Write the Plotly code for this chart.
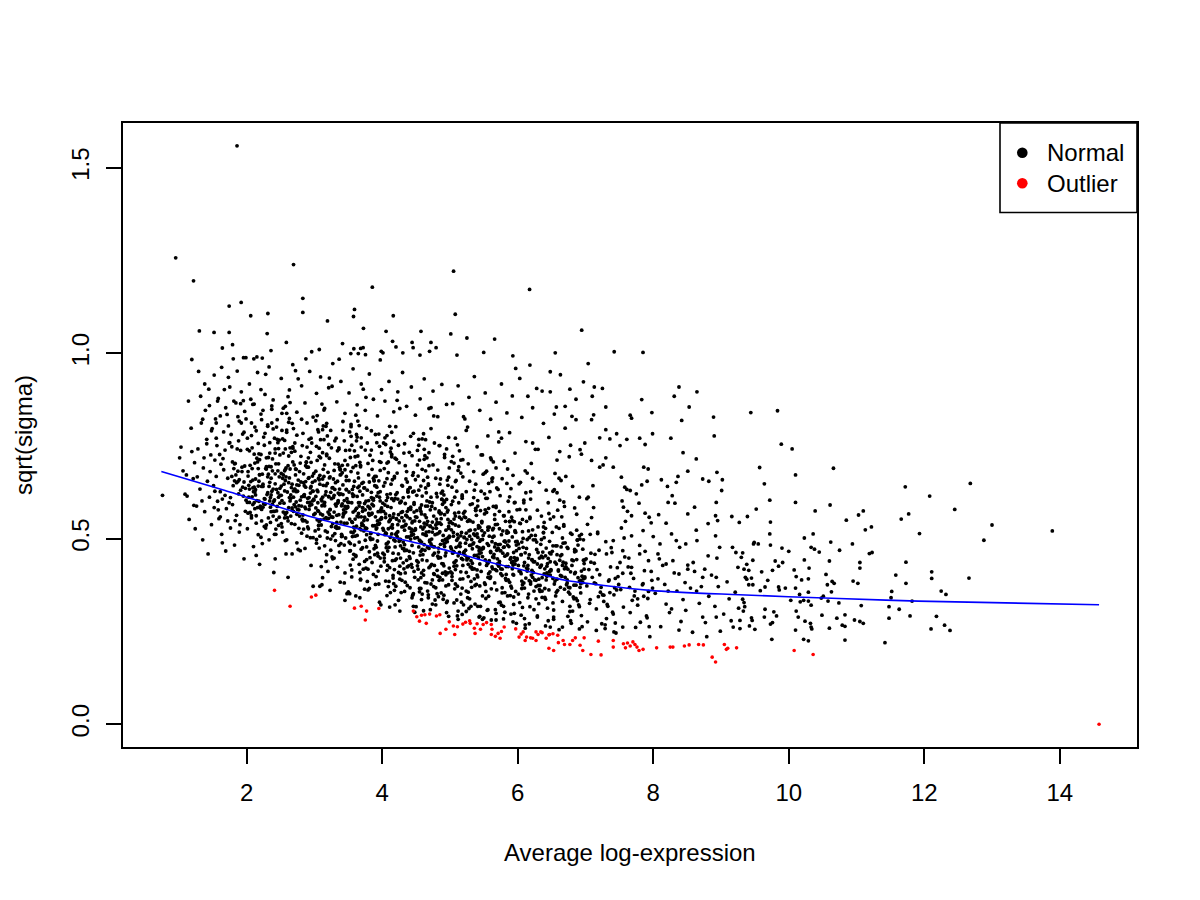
import plotly.graph_objects as go

# ---- data: flat lists of (x, y) pairs ----
# x = Average log-expression, y = sqrt(sigma)

normal_xy_1_2 = [
0.757,.617, 1.03,.747, 1.01,.718, 1.09,.620, 1.12,.615, 1.06,.683, 1.15,.552, 1.18,.798, 1.21,.662, 1.23,.705,
1.14,.871, 1.26,.588, 1.28,.742, 1.31,.634, 1.33,.812, 1.35,.497, 1.36,.691, 1.38,.573, 1.41,.768, 1.42,.655,
1.44,.903, 1.45,.612, 1.47,.726, 1.48,.538, 1.29,.951, 1.39,.846, 1.46,.681, 1.24,.527, 1.34,.602, 1.43,.459,
1.49,.797, 1.19,.735, 1.27,.667, 1.37,.718, 1.11,.672, 1.22,.590,
1.51,.643, 1.58,.578, 1.53,.712, 1.64,.489, 1.55,.668, 1.71,.835, 1.57,.601, 1.86,.742, 1.59,.554, 1.93,.693,
1.61,.627, 1.77,.781, 1.63,.512, 1.89,.659, 1.65,.716, 1.52,.584, 1.67,.902, 1.98,.636, 1.69,.467, 1.74,.758,
1.81,.689, 1.72,.548, 1.95,.615, 1.54,.823, 1.84,.672, 1.76,.529, 1.62,.701, 1.79,.592, 1.91,.864, 1.80,.643,
1.56,.751, 1.82,.483, 1.68,.617, 1.97,.696, 1.85,.563, 1.66,.788, 1.87,.654, 1.73,.935, 1.99,.604, 1.60,.727,
1.90,.538, 1.78,.668, 1.92,.812, 1.70,.581, 1.94,.639, 1.83,.703, 1.96,.446, 1.75,.759, 1.88,.621, 1.53,.628,
1.57,.871, 1.61,.559, 1.64,.607, 1.68,.739, 1.72,.663, 1.76,.611, 1.79,.707, 1.83,.549, 1.87,.682, 1.91,.631,
1.95,.872, 1.98,.574, 1.55,.771, 1.66,.686, 1.74,.597, 1.82,.656, 1.89,.518, 1.96,.653,
]

normal_xy_2_3 = [
2.03,.612, 2.41,.574, 2.17,.689, 2.26,.533, 2.08,.745, 2.37,.628, 2.12,.581, 2.48,.667, 2.21,.902, 2.33,.497,
2.06,.654, 2.29,.718, 2.44,.551, 2.15,.603, 2.39,.796, 2.01,.527, 2.24,.641, 2.47,.612, 2.11,.863, 2.35,.585,
2.19,.672, 2.42,.446, 2.05,.698, 2.31,.624, 2.46,.759, 2.14,.542, 2.27,.607, 2.38,.683, 2.09,.592, 2.22,.821,
2.49,.636, 2.02,.569, 2.34,.731, 2.18,.655, 2.43,.512, 2.25,.594, 2.07,.778, 2.36,.663, 2.13,.618, 2.45,.587,
2.28,.943, 2.04,.634, 2.32,.556, 2.16,.707, 2.40,.601, 2.23,.674, 2.10,.479, 2.47,.702, 2.30,.619, 2.20,.588,
2.37,.849, 2.02,.681, 2.44,.633, 2.26,.752, 2.14,.562, 2.39,.574, 2.08,.613, 2.33,.695, 2.19,.431, 2.48,.558,
2.24,.647, 2.11,.728, 2.41,.605, 2.29,.537, 2.06,.876, 2.35,.611, 2.17,.642, 2.46,.683, 2.22,.579, 2.04,.598,
2.31,.807, 2.43,.526, 2.13,.661, 2.38,.715, 2.27,.593, 2.09,.637, 2.45,.768, 2.21,.504, 2.34,.652, 2.16,.584,
2.49,.617, 2.01,.741, 2.28,.689, 2.40,.409, 2.12,.626, 2.36,.573, 2.23,.987, 2.07,.562, 2.42,.648, 2.32,.674,
2.18,.601,
2.52,.603, 2.78,.561, 2.64,.688, 2.91,.527, 2.57,.742, 2.85,.619, 2.69,.574, 2.97,.652, 2.61,.883, 2.74,.489,
2.55,.647, 2.88,.706, 2.66,.541, 2.93,.598, 2.59,.787, 2.81,.515, 2.71,.633, 2.99,.607, 2.54,.852, 2.77,.578,
2.63,.664, 2.95,.428, 2.58,.691, 2.84,.616, 2.68,.748, 2.90,.532, 2.73,.599, 2.51,.676, 2.86,.585, 2.62,.814,
2.98,.628, 2.56,.556, 2.80,.722, 2.67,.647, 2.94,.503, 2.72,.586, 2.53,.769, 2.87,.654, 2.65,.609, 2.92,.579,
2.76,.931, 2.60,.626, 2.83,.548, 2.70,.699, 2.96,.592, 2.58,.667, 2.79,.468, 2.89,.693, 2.63,.611, 2.75,.579,
2.52,.838, 2.94,.623, 2.68,.744, 2.82,.553, 2.57,.566, 2.99,.604, 2.73,.687, 2.61,.396, 2.86,.549, 2.66,.638,
2.91,.718, 2.55,.596, 2.77,.528, 2.64,.867, 2.97,.602, 2.71,.634, 2.84,.675, 2.59,.571, 2.93,.589, 2.69,.797,
2.53,.518, 2.80,.653, 2.88,.707, 2.62,.584, 2.75,.628, 2.96,.758, 2.57,.495, 2.85,.643, 2.67,.577, 2.90,.609,
2.54,.731, 2.78,.681, 2.98,.372, 2.65,.618, 2.83,.564, 2.72,.953, 2.60,.557, 2.87,.639, 2.92,.665, 2.70,.592,
2.51,.541, 2.76,.471, 2.95,.706, 2.63,.824, 2.81,.613, 2.56,.683, 2.89,.507, 2.74,.645, 2.67,.459,
]

normal_xy_3_4 = [
3.02,.583, 3.27,.541, 3.14,.668, 3.41,.507, 3.07,.722, 3.35,.599, 3.19,.554, 3.47,.632, 3.11,.863, 3.24,.469,
3.05,.627, 3.38,.686, 3.16,.521, 3.43,.578, 3.09,.767, 3.31,.495, 3.21,.613, 3.49,.587, 3.04,.832, 3.27,.558,
3.13,.644, 3.45,.408, 3.08,.671, 3.34,.596, 3.18,.728, 3.40,.512, 3.23,.579, 3.01,.656, 3.36,.565, 3.12,.794,
3.48,.608, 3.06,.536, 3.30,.702, 3.17,.627, 3.44,.483, 3.22,.566, 3.03,.749, 3.37,.634, 3.15,.589, 3.42,.559,
3.26,.911, 3.10,.606, 3.33,.528, 3.20,.679, 3.46,.572, 3.08,.647, 3.29,.448, 3.39,.673, 3.13,.591, 3.25,.559,
3.02,.818, 3.44,.603, 3.18,.724, 3.32,.533, 3.07,.546, 3.49,.584, 3.23,.667, 3.11,.376, 3.36,.529, 3.16,.618,
3.41,.698, 3.05,.576, 3.27,.508, 3.14,.847, 3.47,.582, 3.21,.614, 3.34,.655, 3.09,.551, 3.43,.569, 3.19,.777,
3.03,.498, 3.30,.633, 3.38,.687, 3.12,.564, 3.25,.608, 3.46,.738, 3.07,.475, 3.35,.623, 3.17,.557, 3.40,.589,
3.04,.711, 3.28,.661, 3.48,.352, 3.15,.598, 3.33,.544, 3.22,.933, 3.10,.537, 3.37,.619, 3.42,.645, 3.20,.572,
3.01,.521, 3.26,.451, 3.45,.686, 3.13,.804, 3.31,.593, 3.06,.663, 3.39,.487, 3.24,.625, 3.17,.439, 3.44,.542,
3.29,.617, 3.06,.574, 3.36,.741, 3.19,.502, 3.47,.657, 3.12,.612,
3.52,.553, 3.77,.511, 3.64,.638, 3.91,.477, 3.57,.692, 3.85,.569, 3.69,.524, 3.97,.602, 3.61,.833, 3.74,.439,
3.55,.597, 3.88,.656, 3.66,.491, 3.93,.548, 3.59,.737, 3.81,.465, 3.71,.583, 3.99,.557, 3.54,.802, 3.77,.528,
3.63,.614, 3.95,.378, 3.58,.641, 3.84,.566, 3.68,.698, 3.90,.482, 3.73,.549, 3.51,.626, 3.86,.535, 3.62,.764,
3.98,.578, 3.56,.506, 3.80,.672, 3.67,.597, 3.94,.453, 3.72,.536, 3.53,.719, 3.87,.604, 3.65,.559, 3.92,.529,
3.76,.881, 3.60,.576, 3.83,.498, 3.70,.649, 3.96,.542, 3.58,.617, 3.79,.418, 3.89,.643, 3.63,.561, 3.75,.529,
3.52,.788, 3.94,.573, 3.68,.694, 3.82,.503, 3.57,.516, 3.99,.554, 3.73,.637, 3.61,.346, 3.86,.499, 3.66,.588,
3.91,.668, 3.55,.546, 3.77,.478, 3.64,.817, 3.97,.552, 3.71,.584, 3.84,.625, 3.59,.521, 3.93,.539, 3.69,.747,
3.53,.468, 3.80,.603, 3.88,.657, 3.62,.534, 3.75,.578, 3.96,.708, 3.57,.445, 3.85,.593, 3.67,.527, 3.90,.559,
3.54,.681, 3.78,.631, 3.98,.322, 3.65,.568, 3.83,.514, 3.72,.903, 3.60,.507, 3.87,.589, 3.92,.615, 3.70,.542,
3.51,.491, 3.76,.421, 3.95,.656, 3.63,.774, 3.81,.563, 3.56,.633, 3.89,.457, 3.74,.595, 3.67,.409, 3.94,.512,
3.79,.587, 3.56,.544, 3.86,.711, 3.69,.472, 3.97,.627, 3.62,.582, 3.74,.364, 3.58,.458, 3.82,.449, 3.91,.398,
3.66,.431, 3.53,.487, 3.98,.426, 3.78,.385, 3.61,.452, 3.87,.404, 3.71,.476, 3.55,.416, 3.93,.461, 3.68,.391,
]

normal_xy_4_5 = [
4.02,.523, 4.27,.481, 4.14,.608, 4.41,.447, 4.07,.662, 4.35,.539, 4.19,.494, 4.47,.572, 4.11,.803, 4.24,.409,
4.05,.567, 4.38,.626, 4.16,.461, 4.43,.518, 4.09,.707, 4.31,.435, 4.21,.553, 4.49,.527, 4.04,.772, 4.27,.498,
4.13,.584, 4.45,.348, 4.08,.611, 4.34,.536, 4.18,.668, 4.40,.452, 4.23,.519, 4.01,.596, 4.36,.505, 4.12,.734,
4.48,.548, 4.06,.476, 4.30,.642, 4.17,.567, 4.44,.423, 4.22,.506, 4.03,.689, 4.37,.574, 4.15,.529, 4.42,.499,
4.26,.851, 4.10,.546, 4.33,.468, 4.20,.619, 4.46,.512, 4.08,.587, 4.29,.388, 4.39,.613, 4.13,.531, 4.25,.499,
4.02,.758, 4.44,.543, 4.18,.664, 4.32,.473, 4.07,.486, 4.49,.524, 4.23,.607, 4.11,.316, 4.36,.469, 4.16,.558,
4.41,.638, 4.05,.516, 4.27,.448, 4.14,.787, 4.47,.522, 4.21,.554, 4.34,.595, 4.09,.491, 4.43,.509, 4.19,.717,
4.03,.438, 4.30,.573, 4.38,.627, 4.12,.504, 4.25,.548, 4.46,.678, 4.07,.415, 4.35,.563, 4.17,.497, 4.40,.529,
4.04,.651, 4.28,.601, 4.48,.302, 4.15,.538, 4.33,.484, 4.22,.873, 4.10,.477, 4.37,.559, 4.42,.585, 4.20,.512,
4.01,.461, 4.26,.391, 4.45,.626, 4.13,.744, 4.31,.533, 4.06,.603, 4.39,.427, 4.24,.565, 4.17,.379, 4.44,.482,
4.29,.557, 4.06,.514, 4.36,.681, 4.19,.442, 4.47,.597, 4.12,.552, 4.24,.334, 4.08,.428, 4.32,.419, 4.41,.368,
4.16,.401, 4.03,.457, 4.48,.396, 4.28,.355, 4.11,.422, 4.37,.374, 4.21,.446, 4.05,.386, 4.43,.431, 4.18,.361,
4.34,.408, 4.26,.426, 4.09,.371, 4.46,.352,
4.52,.503, 4.77,.461, 4.64,.588, 4.91,.427, 4.57,.642, 4.85,.519, 4.69,.474, 4.97,.552, 4.61,.783, 4.74,.389,
4.55,.547, 4.88,.606, 4.66,.441, 4.93,.498, 4.59,.687, 4.81,.415, 4.71,.533, 4.99,.507, 4.54,.752, 4.77,.478,
4.63,.564, 4.95,.328, 4.58,.591, 4.84,.516, 4.68,.648, 4.90,.432, 4.73,.499, 4.51,.576, 4.86,.485, 4.62,.714,
4.98,.528, 4.56,.456, 4.80,.622, 4.67,.547, 4.94,.403, 4.72,.486, 4.53,.669, 4.87,.554, 4.65,.509, 4.92,.479,
4.76,.831, 4.60,.526, 4.83,.448, 4.70,.599, 4.96,.492, 4.58,.567, 4.79,.368, 4.89,.593, 4.63,.511, 4.75,.479,
4.52,.738, 4.94,.523, 4.68,.644, 4.82,.453, 4.57,.466, 4.99,.504, 4.73,.587, 4.61,.306, 4.86,.449, 4.66,.538,
4.91,.618, 4.55,.496, 4.77,.428, 4.64,.767, 4.97,.502, 4.71,.534, 4.84,.575, 4.59,.471, 4.93,.489, 4.69,.697,
4.53,.418, 4.80,.553, 4.88,.607, 4.62,.484, 4.75,.528, 4.96,.658, 4.57,.395, 4.85,.543, 4.67,.477, 4.90,.509,
4.54,.631, 4.78,.581, 4.98,.291, 4.65,.518, 4.83,.464, 4.72,.853, 4.60,.457, 4.87,.539, 4.92,.565, 4.70,.492,
4.51,.441, 4.76,.371, 4.95,.606, 4.63,.724, 4.81,.513, 4.56,.583, 4.89,.407, 4.74,.545, 4.67,.359, 4.94,.462,
4.79,.537, 4.56,.494, 4.86,.661, 4.69,.422, 4.97,.577, 4.62,.532, 4.74,.324, 4.58,.408, 4.82,.399, 4.91,.348,
4.66,.381, 4.53,.437, 4.98,.376, 4.78,.335, 4.61,.402, 4.87,.354, 4.71,.426, 4.55,.366, 4.93,.411, 4.68,.341,
4.84,.388, 4.76,.406, 4.59,.351, 4.96,.332,
]

normal_xy_5_6 = [
5.02,.473, 5.27,.431, 5.14,.558, 5.41,.397, 5.07,.612, 5.35,.489, 5.19,.444, 5.47,.522, 5.11,.753, 5.24,.359,
5.05,.517, 5.38,.576, 5.16,.411, 5.43,.468, 5.09,.657, 5.31,.385, 5.21,.503, 5.49,.477, 5.04,.722, 5.27,.448,
5.13,.534, 5.45,.318, 5.08,.561, 5.34,.486, 5.18,.618, 5.40,.402, 5.23,.469, 5.01,.546, 5.36,.455, 5.12,.684,
5.48,.498, 5.06,.426, 5.30,.592, 5.17,.517, 5.44,.373, 5.22,.456, 5.03,.639, 5.37,.524, 5.15,.479, 5.42,.449,
5.26,.801, 5.10,.496, 5.33,.418, 5.20,.569, 5.46,.462, 5.08,.537, 5.29,.338, 5.39,.563, 5.13,.481, 5.25,.449,
5.02,.708, 5.44,.493, 5.18,.614, 5.32,.423, 5.07,.436, 5.49,.474, 5.23,.557, 5.11,.292, 5.36,.419, 5.16,.508,
5.41,.588, 5.05,.466, 5.27,.398, 5.14,.737, 5.47,.472, 5.21,.504, 5.34,.545, 5.09,.441, 5.43,.459, 5.19,.667,
5.03,.388, 5.30,.523, 5.38,.577, 5.12,.454, 5.25,.498, 5.46,.628, 5.07,.365, 5.35,.513, 5.17,.447, 5.40,.479,
5.04,.601, 5.28,.551, 5.48,.283, 5.15,.488, 5.33,.434, 5.22,.823, 5.10,.427, 5.37,.509, 5.42,.535, 5.20,.462,
5.01,.411, 5.26,.341, 5.45,.576, 5.13,.694, 5.31,.483, 5.06,.553, 5.39,.377, 5.24,.515, 5.17,.329, 5.44,.432,
5.29,.507, 5.06,.464, 5.36,.631, 5.19,.392, 5.47,.547, 5.12,.502, 5.24,.304, 5.08,.378, 5.32,.369, 5.41,.318,
5.16,.351, 5.03,.407, 5.48,.346, 5.28,.312, 5.11,.372, 5.37,.324,
5.52,.443, 5.77,.401, 5.64,.528, 5.91,.367, 5.57,.582, 5.85,.459, 5.69,.414, 5.97,.492, 5.61,.713, 5.74,.329,
5.55,.487, 5.88,.546, 5.66,.381, 5.93,.438, 5.59,.627, 5.81,.355, 5.71,.473, 5.99,.447, 5.54,.682, 5.77,.418,
5.63,.504, 5.95,.299, 5.58,.531, 5.84,.456, 5.68,.588, 5.90,.372, 5.73,.439, 5.51,.516, 5.86,.425, 5.62,.654,
5.98,.468, 5.56,.396, 5.80,.562, 5.67,.487, 5.94,.343, 5.72,.426, 5.53,.609, 5.87,.494, 5.65,.449, 5.92,.419,
5.76,.771, 5.60,.466, 5.83,.388, 5.70,.539, 5.96,.432, 5.58,.507, 5.79,.318, 5.89,.533, 5.63,.451, 5.75,.419,
5.52,.678, 5.94,.463, 5.68,.584, 5.82,.393, 5.57,.406, 5.99,.444, 5.73,.527, 5.61,.281, 5.86,.389, 5.66,.478,
5.91,.558, 5.55,.436, 5.77,.368, 5.64,.707, 5.97,.442, 5.71,.474, 5.84,.515, 5.59,.411, 5.93,.429, 5.69,.637,
5.53,.358, 5.80,.493, 5.88,.547, 5.62,.424, 5.75,.468, 5.96,.598, 5.57,.345, 5.85,.483, 5.67,.417, 5.90,.449,
5.54,.571, 5.78,.521, 5.98,.272, 5.65,.458, 5.83,.404, 5.72,.788, 5.60,.397, 5.87,.479, 5.92,.505, 5.70,.432,
5.51,.381, 5.76,.321, 5.95,.546, 5.63,.664, 5.81,.453, 5.56,.523, 5.89,.347, 5.74,.485, 5.67,.309, 5.94,.402,
5.79,.477, 5.56,.434, 5.86,.601, 5.69,.362, 5.97,.517,
]

normal_xy_6_8 = [
6.02,.413, 6.27,.371, 6.14,.498, 6.41,.337, 6.07,.552, 6.35,.429, 6.19,.384, 6.47,.462, 6.11,.683, 6.24,.309,
6.05,.457, 6.38,.516, 6.16,.351, 6.43,.408, 6.09,.597, 6.31,.325, 6.21,.443, 6.49,.417, 6.04,.652, 6.27,.388,
6.13,.474, 6.45,.279, 6.08,.501, 6.34,.426, 6.18,.558, 6.40,.342, 6.23,.409, 6.01,.486, 6.36,.395, 6.12,.624,
6.48,.438, 6.06,.366, 6.30,.532, 6.17,.457, 6.44,.313, 6.22,.396, 6.03,.579, 6.37,.464, 6.15,.419, 6.42,.389,
6.26,.741, 6.10,.436, 6.33,.358, 6.20,.509, 6.46,.402, 6.08,.477, 6.29,.292, 6.39,.503, 6.13,.421, 6.25,.389,
6.02,.648, 6.44,.433, 6.18,.554, 6.32,.363, 6.07,.376, 6.49,.414, 6.23,.497, 6.11,.268, 6.36,.359, 6.16,.448,
6.41,.528, 6.05,.406, 6.27,.338, 6.14,.677, 6.47,.412, 6.21,.444, 6.34,.485, 6.09,.381, 6.43,.399, 6.19,.607,
6.03,.328, 6.30,.463, 6.38,.517, 6.12,.394, 6.25,.438, 6.46,.568, 6.07,.315, 6.35,.453, 6.17,.387, 6.40,.419,
6.04,.541, 6.28,.491, 6.48,.262, 6.15,.428, 6.33,.374, 6.22,.758, 6.10,.367, 6.37,.449, 6.42,.475, 6.20,.402,
6.01,.351,
6.52,.393, 6.77,.351, 6.64,.478, 6.91,.317, 6.57,.532, 6.85,.409, 6.69,.364, 6.97,.442, 6.61,.663, 6.74,.291,
6.55,.437, 6.88,.496, 6.66,.331, 6.93,.388, 6.59,.577, 6.81,.305, 6.71,.423, 6.99,.397, 6.54,.632, 6.77,.368,
6.63,.454, 6.95,.263, 6.58,.481, 6.84,.406, 6.68,.538, 6.90,.322, 6.73,.389, 6.51,.466, 6.86,.375, 6.62,.604,
6.98,.418, 6.56,.346, 6.80,.512, 6.67,.437, 6.94,.293, 6.72,.376, 6.53,.559, 6.87,.444, 6.65,.399, 6.92,.369,
6.76,.721, 6.60,.416, 6.83,.338, 6.70,.489, 6.96,.382, 6.58,.457, 6.79,.272, 6.89,.483, 6.63,.401, 6.75,.369,
6.52,.628, 6.94,.413, 6.68,.534, 6.82,.343, 6.57,.356, 6.99,.394, 6.73,.477, 6.61,.255, 6.86,.339, 6.66,.428,
6.91,.508, 6.55,.386, 6.77,.318, 6.64,.657, 6.97,.392, 6.71,.424, 6.84,.465, 6.59,.361, 6.93,.379, 6.69,.587,
6.53,.308, 6.80,.443, 6.88,.497,
7.02,.373, 7.27,.331, 7.14,.458, 7.41,.297, 7.07,.512, 7.35,.389, 7.19,.344, 7.47,.422, 7.11,.643, 7.24,.271,
7.05,.417, 7.38,.476, 7.16,.311, 7.43,.368, 7.09,.557, 7.31,.285, 7.21,.403, 7.49,.377, 7.04,.612, 7.27,.348,
7.13,.434, 7.45,.246, 7.08,.461, 7.34,.386, 7.18,.518, 7.40,.302, 7.23,.369, 7.01,.446, 7.36,.355, 7.12,.584,
7.48,.398, 7.06,.326, 7.30,.492, 7.17,.417, 7.44,.273, 7.22,.356, 7.03,.539, 7.37,.424, 7.15,.379, 7.42,.349,
7.26,.699, 7.10,.396, 7.33,.318, 7.20,.469, 7.46,.362, 7.08,.437, 7.29,.258, 7.39,.463, 7.13,.381, 7.25,.349,
7.02,.608, 7.44,.393, 7.18,.514, 7.32,.323, 7.07,.336,
7.52,.363, 7.77,.321, 7.64,.448, 7.91,.287, 7.57,.502, 7.85,.379, 7.69,.334, 7.97,.412, 7.61,.633, 7.74,.261,
7.55,.407, 7.88,.466, 7.66,.301, 7.93,.358, 7.59,.547, 7.81,.275, 7.71,.393, 7.99,.367, 7.54,.602, 7.77,.338,
7.63,.424, 7.95,.236, 7.58,.451, 7.84,.376, 7.68,.508, 7.90,.292, 7.73,.359, 7.51,.436, 7.86,.345, 7.62,.574,
7.98,.388, 7.56,.316, 7.80,.482, 7.67,.407, 7.94,.263, 7.72,.346, 7.53,.529, 7.87,.414, 7.65,.369, 7.92,.339,
]

# extra points for the densest part of the cloud
normal_xy_core_extra = [
2.05,.571, 2.13,.632, 2.22,.548, 2.31,.667, 2.38,.593, 2.46,.624, 2.54,.572, 2.62,.651, 2.71,.539, 2.79,.604,
2.87,.581, 2.94,.637, 2.08,.689, 2.17,.511, 2.26,.608, 2.35,.544, 2.43,.702, 2.51,.617, 2.59,.497, 2.67,.583,
2.76,.658, 2.84,.526, 2.92,.611, 2.99,.565, 2.03,.644, 2.11,.597, 2.19,.673, 2.28,.529, 2.36,.618, 2.44,.575,
2.53,.663, 2.61,.548, 2.69,.612, 2.77,.589, 2.86,.474, 2.95,.641, 2.07,.556, 2.15,.717, 2.24,.585, 2.33,.641,
2.41,.512, 2.49,.596, 2.57,.687, 2.65,.561, 2.73,.627, 2.82,.551, 2.90,.598, 2.98,.503, 2.10,.627, 2.20,.583,
2.29,.694, 2.39,.561, 2.47,.536, 2.56,.629, 2.64,.602, 2.72,.672, 2.81,.588, 2.89,.545, 2.97,.669, 2.01,.598,
2.23,.487, 2.42,.731, 2.58,.459, 2.74,.566, 2.91,.693, 2.14,.455, 2.34,.602, 2.52,.532, 2.68,.707, 2.85,.614,
3.04,.551, 3.11,.602, 3.19,.518, 3.26,.637, 3.33,.563, 3.41,.594, 3.48,.542, 3.56,.621, 3.63,.509, 3.71,.574,
3.78,.551, 3.86,.607, 3.93,.494, 3.99,.583, 3.07,.659, 3.15,.481, 3.23,.578, 3.30,.514, 3.38,.672, 3.45,.587,
3.52,.467, 3.60,.553, 3.67,.628, 3.75,.496, 3.82,.581, 3.89,.535, 3.96,.612, 3.02,.614, 3.09,.567, 3.17,.643,
3.24,.499, 3.32,.588, 3.39,.545, 3.47,.633, 3.54,.518, 3.62,.582, 3.69,.559, 3.77,.444, 3.84,.611, 3.91,.526,
3.98,.573, 3.06,.526, 3.13,.687, 3.21,.555, 3.28,.611, 3.36,.482, 3.43,.566, 3.51,.657, 3.58,.531, 3.65,.597,
3.73,.521, 3.80,.568, 3.88,.473, 3.95,.539, 3.05,.597, 3.14,.553, 3.22,.664, 3.31,.531, 3.40,.506, 3.49,.599,
3.57,.572, 3.66,.642, 3.74,.558, 3.83,.515, 3.92,.639, 3.01,.568, 3.18,.457, 3.35,.701, 3.53,.429, 3.70,.536,
3.87,.663, 3.10,.425, 3.29,.572, 3.46,.502, 3.64,.677, 3.81,.584, 3.97,.448, 3.03,.488, 3.20,.412, 3.37,.464,
3.55,.397, 3.72,.418, 3.90,.377, 3.12,.395, 3.27,.446, 3.44,.381, 3.61,.455, 3.79,.362, 3.94,.413, 3.08,.507,
3.25,.533, 3.42,.619, 3.59,.483, 3.76,.601, 3.85,.436, 3.68,.389, 3.50,.357, 3.34,.423,
4.04,.511, 4.11,.562, 4.19,.478, 4.26,.597, 4.33,.523, 4.41,.554, 4.48,.502, 4.56,.581, 4.63,.469, 4.71,.534,
4.78,.511, 4.86,.567, 4.93,.454, 4.99,.543, 4.07,.619, 4.15,.441, 4.23,.538, 4.30,.474, 4.38,.632, 4.45,.547,
4.52,.427, 4.60,.513, 4.67,.588, 4.75,.456, 4.82,.541, 4.89,.495, 4.96,.572, 4.02,.574, 4.09,.527, 4.17,.603,
4.24,.459, 4.32,.548, 4.39,.505, 4.47,.593, 4.54,.478, 4.62,.542, 4.69,.519, 4.77,.404, 4.84,.571, 4.91,.486,
4.98,.533, 4.06,.486, 4.13,.647, 4.21,.515, 4.28,.571, 4.36,.442, 4.43,.526, 4.51,.617, 4.58,.491, 4.65,.557,
4.73,.481, 4.80,.528, 4.88,.433, 4.95,.499, 4.05,.557, 4.14,.513, 4.22,.624, 4.31,.491, 4.40,.466, 4.49,.559,
4.57,.532, 4.66,.602, 4.74,.518, 4.83,.475, 4.92,.599, 4.01,.528, 4.18,.417, 4.35,.661, 4.53,.389, 4.70,.496,
4.87,.623, 4.10,.385, 4.29,.532, 4.46,.462, 4.64,.637, 4.81,.544, 4.97,.408, 4.03,.448, 4.20,.372, 4.37,.424,
4.55,.357, 4.72,.378, 4.90,.337, 4.12,.355, 4.27,.406, 4.44,.341, 4.61,.415, 4.79,.322, 4.94,.373, 4.08,.467,
4.25,.493, 4.42,.579, 4.59,.443, 4.76,.561, 4.85,.396, 4.68,.349, 4.50,.317, 4.34,.383, 4.16,.394, 4.57,.366,
4.73,.431, 4.89,.389, 4.47,.412, 4.63,.382, 4.81,.352, 4.99,.421,
5.04,.461, 5.11,.512, 5.19,.428, 5.26,.547, 5.33,.473, 5.41,.504, 5.48,.452, 5.56,.531, 5.63,.419, 5.71,.484,
5.78,.461, 5.86,.517, 5.93,.404, 5.99,.493, 5.07,.569, 5.15,.391, 5.23,.488, 5.30,.424, 5.38,.582, 5.45,.497,
5.52,.377, 5.60,.463, 5.67,.538, 5.75,.406, 5.82,.491, 5.89,.445, 5.96,.522, 5.02,.524, 5.09,.477, 5.17,.553,
5.24,.409, 5.32,.498, 5.39,.455, 5.47,.543, 5.54,.428, 5.62,.492, 5.69,.469, 5.77,.354, 5.84,.521, 5.91,.436,
5.98,.483, 5.06,.436, 5.13,.597, 5.21,.465, 5.28,.521, 5.36,.392, 5.43,.476, 5.51,.567, 5.58,.441, 5.65,.507,
5.73,.431, 5.80,.478, 5.88,.383, 5.95,.449, 5.05,.507, 5.14,.463, 5.22,.574, 5.31,.441, 5.40,.416, 5.49,.509,
5.57,.482, 5.66,.552, 5.74,.468, 5.83,.425, 5.92,.549, 5.01,.478, 5.18,.367, 5.35,.611, 5.53,.339, 5.70,.446,
5.87,.573, 5.10,.335, 5.29,.482, 5.46,.412, 5.64,.587, 5.81,.494, 5.97,.358, 5.03,.398, 5.20,.322, 5.37,.374,
5.55,.307, 5.72,.328, 5.90,.297, 5.12,.305, 5.27,.356, 5.44,.291, 5.61,.365, 5.79,.284, 5.94,.323, 5.08,.417,
5.25,.443, 5.42,.529, 5.59,.393, 5.76,.511, 5.85,.346, 5.68,.299, 5.50,.287,
6.04,.411, 6.11,.462, 6.19,.378, 6.26,.497, 6.33,.423, 6.41,.454, 6.48,.402, 6.56,.481, 6.63,.369, 6.71,.434,
6.78,.411, 6.86,.467, 6.93,.354, 6.99,.443, 6.07,.519, 6.15,.341, 6.23,.438, 6.30,.374, 6.38,.532, 6.45,.447,
6.52,.327, 6.60,.413, 6.67,.488, 6.75,.356, 6.82,.441, 6.89,.395, 6.96,.472, 6.02,.474, 6.09,.427, 6.17,.503,
6.24,.359, 6.32,.448, 6.39,.405, 6.47,.493, 6.54,.378, 6.62,.442, 6.69,.419, 6.77,.304, 6.84,.471, 6.91,.386,
6.98,.433, 6.06,.386, 6.13,.547, 6.21,.415, 6.28,.471, 6.36,.342, 6.43,.426, 6.51,.517, 6.58,.391, 6.65,.457,
6.73,.381, 6.80,.428, 6.88,.333, 6.95,.399, 6.05,.457, 6.14,.413, 6.22,.524, 6.31,.391, 6.40,.366, 6.49,.459,
6.57,.432, 6.66,.502, 6.74,.418, 6.83,.375, 6.92,.499, 6.01,.428, 6.18,.317, 6.35,.561, 6.53,.289, 6.70,.396,
6.87,.523, 6.10,.285, 6.29,.432, 6.46,.362,
]

# middle-upper band of the dense cloud
normal_xy_mid_extra = [
1.82,.702, 1.88,.764, 1.93,.681, 1.99,.823, 2.04,.737, 2.09,.658, 2.14,.791, 2.19,.713, 2.24,.846, 2.29,.688,
2.34,.759, 2.39,.634, 2.44,.801, 2.49,.726, 2.54,.672, 2.59,.838, 2.64,.745, 2.69,.629, 2.74,.779, 2.79,.704,
2.84,.651, 2.89,.812, 2.94,.733, 2.99,.676, 1.85,.651, 1.91,.738, 1.96,.787, 2.02,.669, 2.07,.812, 2.12,.704,
2.17,.757, 2.22,.641, 2.27,.784, 2.32,.719, 2.37,.858, 2.42,.675, 2.47,.743, 2.52,.792, 2.57,.657, 2.62,.723,
2.67,.811, 2.72,.688, 2.77,.644, 2.82,.751, 2.87,.697, 2.92,.768, 2.97,.628, 1.87,.829, 2.01,.771, 2.11,.639,
2.21,.727, 2.31,.803, 2.41,.771, 2.51,.642, 2.61,.697, 2.71,.736, 2.81,.822, 2.91,.663, 2.36,.694, 2.56,.765,
3.02,.682, 3.07,.744, 3.12,.661, 3.17,.803, 3.22,.717, 3.27,.638, 3.32,.771, 3.37,.693, 3.42,.816, 3.47,.668,
3.52,.739, 3.57,.614, 3.62,.781, 3.67,.706, 3.72,.652, 3.77,.798, 3.82,.725, 3.87,.609, 3.92,.759, 3.97,.684,
3.04,.631, 3.09,.718, 3.14,.767, 3.19,.649, 3.24,.792, 3.29,.684, 3.34,.737, 3.39,.621, 3.44,.764, 3.49,.699,
3.54,.808, 3.59,.655, 3.64,.723, 3.69,.772, 3.74,.637, 3.79,.703, 3.84,.791, 3.89,.668, 3.94,.624, 3.99,.731,
3.05,.794, 3.15,.699, 3.25,.745, 3.35,.603, 3.45,.711, 3.55,.752, 3.65,.664, 3.75,.739, 3.85,.687, 3.95,.782,
3.11,.589, 3.31,.651, 3.51,.598, 3.71,.618, 3.91,.642, 3.21,.754, 3.41,.678, 3.61,.697, 3.81,.653, 3.98,.706,
4.02,.642, 4.07,.704, 4.12,.621, 4.17,.763, 4.22,.677, 4.27,.598, 4.32,.731, 4.37,.653, 4.42,.776, 4.47,.628,
4.52,.699, 4.57,.574, 4.62,.741, 4.67,.666, 4.72,.612, 4.77,.758, 4.82,.685, 4.87,.569, 4.92,.719, 4.97,.644,
4.04,.591, 4.09,.678, 4.14,.727, 4.19,.609, 4.24,.752, 4.29,.644, 4.34,.697, 4.39,.581, 4.44,.724, 4.49,.659,
4.54,.768, 4.59,.615, 4.64,.683, 4.69,.732, 4.74,.597, 4.79,.663, 4.84,.751, 4.89,.628, 4.94,.584, 4.99,.691,
4.05,.754, 4.15,.659, 4.25,.705, 4.35,.563, 4.45,.671, 4.55,.712, 4.65,.624, 4.75,.699, 4.85,.647, 4.95,.742,
4.11,.549, 4.31,.611, 4.51,.558, 4.71,.578, 4.91,.602, 4.21,.714, 4.41,.638, 4.61,.657, 4.81,.613, 4.98,.666,
5.02,.592, 5.08,.654, 5.13,.571, 5.19,.713, 5.24,.627, 5.30,.548, 5.35,.681, 5.41,.603, 5.46,.726, 5.52,.578,
5.57,.649, 5.63,.524, 5.68,.691, 5.74,.616, 5.79,.562, 5.85,.688, 5.90,.635, 5.96,.519, 5.04,.541, 5.10,.628,
5.16,.677, 5.21,.559, 5.27,.702, 5.33,.594, 5.38,.647, 5.44,.531, 5.49,.674, 5.55,.609, 5.60,.718, 5.66,.565,
5.71,.633, 5.77,.662, 5.82,.547, 5.88,.613, 5.93,.671, 5.99,.578, 5.06,.704, 5.18,.609, 5.29,.655, 5.40,.513,
5.51,.621, 5.62,.662, 5.73,.574, 5.84,.649, 5.95,.597,
6.03,.542, 6.09,.604, 6.16,.521, 6.22,.663, 6.29,.577, 6.35,.498, 6.42,.631, 6.48,.553, 6.55,.676, 6.61,.528,
6.68,.599, 6.74,.474, 6.81,.641, 6.87,.566, 6.94,.512, 6.06,.491, 6.12,.578, 6.19,.627, 6.26,.509, 6.32,.652,
6.39,.544, 6.45,.597, 6.52,.481, 6.58,.624, 6.65,.559, 6.71,.668, 6.78,.515, 6.84,.583, 6.91,.612, 6.97,.497,
]

# points along the lower edge of the cloud
normal_xy_low_edge = [
3.08,.372, 3.23,.361, 3.38,.383, 3.52,.352, 3.67,.341, 3.81,.366, 3.96,.329, 4.07,.347, 4.19,.322, 4.33,.358,
4.46,.318, 4.58,.336, 4.71,.309, 4.83,.344, 4.95,.301, 5.06,.327, 5.18,.296, 5.31,.318, 5.43,.289, 5.56,.309,
5.68,.281, 5.81,.302, 5.93,.276, 6.05,.294, 6.17,.271, 6.29,.289, 6.41,.265, 6.53,.283, 6.66,.262, 6.78,.279,
6.91,.257, 7.03,.276, 7.16,.253, 7.29,.268, 7.42,.249, 7.55,.262, 3.45,.334, 4.26,.305, 5.12,.283, 6.11,.259,
]

# upper part of the cloud (0.70 - 0.98)
normal_xy_upper = [
1.32,.884, 1.38,.917, 1.45,.859, 1.52,.941, 1.58,.878, 1.63,.962, 1.69,.853, 1.75,.909, 1.81,.871, 1.86,.952,
1.92,.896, 1.97,.843, 1.35,.822, 1.48,.791, 1.61,.831, 1.73,.804, 1.84,.866, 1.94,.782, 1.41,.756, 1.55,.812,
1.78,.748, 1.89,.817,
2.04,.917, 2.09,.862, 2.16,.948, 2.21,.836, 2.27,.889, 2.33,.963, 2.39,.874, 2.45,.821, 2.51,.932, 2.57,.857,
2.63,.901, 2.68,.969, 2.74,.841, 2.81,.912, 2.86,.866, 2.93,.951, 2.98,.828, 2.12,.801, 2.25,.774, 2.37,.812,
2.48,.766, 2.59,.793, 2.71,.758, 2.83,.784, 2.95,.771, 2.18,.729, 2.42,.742, 2.66,.733, 2.89,.747,
3.03,.892, 3.09,.936, 3.15,.851, 3.21,.907, 3.27,.972, 3.33,.869, 3.39,.924, 3.45,.838, 3.51,.893, 3.57,.958,
3.63,.861, 3.69,.917, 3.75,.846, 3.81,.944, 3.87,.876, 3.93,.831, 3.99,.902, 3.06,.788, 3.18,.811, 3.30,.764,
3.42,.792, 3.54,.776, 3.66,.805, 3.78,.758, 3.90,.781, 3.12,.732, 3.36,.745, 3.60,.721, 3.84,.739, 3.96,.749,
4.04,.871, 4.10,.924, 4.17,.842, 4.23,.896, 4.30,.948, 4.36,.857, 4.43,.909, 4.49,.833, 4.56,.877, 4.62,.931,
4.69,.851, 4.75,.898, 4.82,.829, 4.88,.916, 4.95,.862, 4.07,.778, 4.20,.802, 4.33,.756, 4.46,.784, 4.59,.769,
4.72,.797, 4.85,.751, 4.98,.773, 4.14,.721, 4.40,.733, 4.66,.718, 4.92,.727,
5.04,.864, 5.12,.912, 5.20,.829, 5.28,.881, 5.36,.937, 5.44,.846, 5.52,.893, 5.60,.822, 5.68,.868, 5.76,.917,
5.84,.839, 5.92,.885, 5.08,.771, 5.24,.792, 5.40,.748, 5.56,.777, 5.72,.761, 5.88,.786, 5.16,.712, 5.48,.726,
5.80,.709, 5.96,.731,
6.06,.827, 6.22,.853, 6.38,.811, 6.54,.836, 6.70,.798, 6.86,.821, 6.12,.762, 6.30,.741, 6.46,.773, 6.62,.735,
6.78,.752, 6.94,.728, 6.20,.703, 6.58,.712,
]

normal_xy_top = [
1.857,1.559, 0.952,1.257, 1.215,1.195, 2.691,1.239, 5.053,1.221, 3.854,1.178, 6.175,1.172, 2.828,1.148,
2.828,1.110, 1.741,1.127, 1.918,1.137, 2.059,1.101, 2.312,1.107, 3.591,1.118, 3.576,1.099, 4.163,1.101,
5.078,1.105, 3.192,1.087, 1.301,1.060, 1.518,1.056, 1.741,1.056, 2.302,1.053, 2.585,1.029, 3.414,1.026,
3.723,1.067, 4.057,1.059, 4.572,1.059, 5.012,1.052, 5.250,1.041, 5.659,1.038, 6.944,1.062, 1.640,1.014,
1.791,1.023, 2.358,1.007, 2.959,1.004, 3.071,1.010, 3.536,.999, 3.581,1.012, 3.682,1.013, 3.718,1.015,
3.647,.999, 3.753,.996, 3.986,1.005, 4.011,1.001, 4.153,1.032, 4.203,1.017, 4.304,1.001, 4.441,1.029,
4.456,1.015, 4.557,.995, 4.699,1.005, 4.719,1.029, 4.795,1.015, 5.103,.995, 5.498,1.002, 5.928,.993,
6.554,1.001, 7.424,1.004, 7.849,1.002, 1.190,.983, 1.801,.985, 1.953,.988, 1.988,.988, 2.105,.985,
2.150,.990, 2.873,.985, 3.364,.984, 3.971,.982,
6.48,.950, 6.63,.942, 6.18,.968, 6.03,.932, 5.97,.959, 6.28,.905, 6.36,.898, 6.48,.896, 6.15,.884,
6.86,.876, 6.77,.903, 6.70,.857, 6.80,.830, 6.57,.855, 7.09,.821, 7.12,.834, 7.21,.772, 7.36,.769,
6.99,.758, 6.92,.740, 7.09,.711, 7.21,.693, 7.30,.718, 7.41,.693, 7.58,.639, 7.53,.666, 7.66,.630,
7.75,.621, 7.79,.596, 7.88,.569, 7.94,.558, 7.97,.543, 8.08,.565, 8.19,.542, 8.27,.513, 8.34,.495,
7.68,.562, 7.56,.585, 7.85,.522, 8.00,.506, 8.10,.486, 7.80,.459, 7.93,.441, 8.07,.459, 8.19,.432,
7.68,.423, 7.55,.468, 7.41,.495, 7.31,.459,
]

normal_xy_right = [
7.04,.972, 6.97,.923, 7.25,.905, 7.13,.909, 7.10,.884, 8.38,.909, 8.645,.896, 7.83,.875, 8.31,.884,
7.30,.855, 7.66,.833, 7.68,.825, 7.98,.840, 8.53,.855, 9.44,.840, 8.89,.828, 8.42,.819, 8.90,.777,
8.26,.771, 7.99,.783, 7.80,.771, 7.61,.768, 7.46,.783, 7.30,.794, 7.51,.751, 7.88,.754, 8.44,.732,
8.635,.715, 8.51,.682, 8.94,.679, 9.02,.659, 8.73,.661, 8.82,.655, 8.365,.668, 8.12,.659, 7.91,.655,
7.83,.645, 7.86,.693, 7.925,.688, 8.34,.652, 8.21,.641, 8.28,.616, 8.32,.596, 8.22,.598, 9.01,.630,
8.93,.598, 8.61,.585, 8.51,.567, 8.92,.562, 8.95,.549, 8.81,.541, 9.16,.560, 9.27,.544, 9.39,.560,
9.49,.490, 9.47,.442, 9.17,.477, 9.22,.463, 9.30,.450, 9.25,.423, 9.36,.396, 8.92,.508, 8.98,.477,
8.94,.448, 8.81,.454, 8.635,.523, 8.645,.495, 8.59,.436, 8.51,.418, 8.76,.418, 8.73,.396, 8.93,.396,
8.48,.486, 8.39,.477, 8.29,.441, 8.38,.405,
8.03,.353, 8.27,.311, 8.14,.428, 8.41,.277, 8.07,.392, 8.35,.359, 8.19,.324, 8.47,.382, 8.11,.263,
8.24,.301, 8.55,.367, 8.68,.326, 8.61,.412, 8.73,.289, 8.82,.345, 8.77,.274, 8.91,.318, 8.96,.371,
9.04,.297, 9.12,.338, 9.18,.262, 9.26,.313, 8.09,.446, 8.31,.408, 8.44,.336, 8.58,.248, 8.64,.359,
8.86,.402, 8.99,.251, 9.09,.384, 8.17,.377, 8.38,.254, 8.51,.429, 8.71,.371, 8.93,.289, 9.21,.356,
8.22,.359, 8.48,.307, 8.79,.236, 9.15,.279,
9.834,.845, 9.89,.755, 10.05,.742, 9.57,.692, 10.66,.690, 10.10,.672, 9.64,.648, 9.72,.604, 10.10,.598,
9.73,.545, 10.39,.575, 10.61,.591, 10.85,.550, 11.03,.564, 11.10,.575, 11.13,.524, 11.22,.532, 11.72,.640,
12.08,.615, 12.68,.649, 12.45,.579, 11.77,.567, 11.66,.553, 13.00,.537, 12.88,.496, 13.89,.521, 11.93,.514,
9.52,.580, 9.72,.513, 9.48,.486, 9.55,.486, 9.73,.483, 9.90,.475, 10.00,.466, 10.23,.502, 10.36,.513,
10.33,.477, 10.38,.472, 10.45,.464, 10.62,.491, 10.75,.469, 10.94,.486, 11.05,.436, 11.05,.421, 11.19,.460,
11.23,.463, 11.73,.437, 11.58,.402, 11.73,.380, 12.11,.411, 12.11,.393, 12.25,.359, 12.32,.350, 12.66,.394,
11.52,.358, 11.51,.341, 11.82,.332, 11.48,.317, 11.63,.310, 11.79,.292, 11.48,.286, 12.18,.291, 12.10,.257,
12.30,.267, 12.38,.253, 11.42,.220, 11.07,.320, 9.32,.462, 9.38,.431, 9.34,.418, 9.41,.415, 9.45,.394,
9.38,.391, 9.41,.376, 9.47,.376, 9.60,.411, 9.76,.415, 9.80,.440, 9.85,.426, 9.91,.436, 9.69,.388,
9.58,.360, 9.65,.370, 9.85,.370, 9.86,.362, 9.95,.367, 10.08,.416, 10.11,.398, 10.23,.443, 10.30,.421,
10.29,.392, 10.19,.389, 10.10,.367, 10.16,.350, 10.29,.356, 10.55,.404, 10.60,.440, 10.63,.357, 10.64,.385,
10.67,.380, 10.57,.376, 10.95,.386, 11.02,.380, 10.03,.334, 10.17,.330, 10.22,.334, 10.29,.332, 10.33,.321,
10.48,.340, 10.51,.345, 10.58,.332, 10.74,.327, 9.32,.337, 9.34,.328, 9.33,.305, 9.65,.310, 9.64,.289,
9.78,.303, 9.82,.292, 9.76,.274, 9.73,.270, 10.11,.305, 10.14,.289, 10.24,.278, 10.32,.272, 10.34,.257,
10.33,.262, 10.49,.294, 10.60,.259, 10.71,.286, 10.83,.295, 10.79,.267, 10.83,.264, 10.97,.281, 11.05,.277,
11.10,.272, 10.83,.227, 10.22,.229, 10.29,.225, 10.10,.254, 9.75,.229, 9.42,.265, 9.50,.256, 9.46,.280,
9.45,.287, 9.28,.258, 9.28,.280, 9.35,.317,
]

outlier_xy = [
2.41,.361, 2.64,.318, 2.955,.343, 3.02,.348, 3.59,.313, 3.69,.318, 3.77,.305, 3.75,.281, 3.95,.312,
4.46,.305, 4.51,.290, 4.55,.278, 4.58,.294, 4.63,.295, 4.65,.272, 4.70,.297, 4.80,.292, 4.85,.295,
4.855,.245, 4.94,.256, 4.99,.276, 5.05,.265, 5.07,.242, 5.11,.263, 5.19,.270, 5.23,.275, 5.29,.279,
5.30,.272, 5.36,.259, 5.37,.245, 5.40,.271, 5.45,.256, 5.49,.269, 5.54,.274, 5.61,.269, 5.61,.242,
5.62,.256, 5.67,.237, 5.71,.245, 5.74,.232, 5.76,.250, 5.80,.262, 5.97,.257, 6.02,.235, 6.05,.243,
6.08,.249, 6.11,.226, 6.13,.235, 6.19,.233, 6.22,.232, 6.27,.249, 6.27,.226, 6.30,.242, 6.34,.249,
6.42,.232, 6.46,.205, 6.46,.241, 6.36,.247, 6.47,.242, 6.52,.244, 6.59,.240, 6.53,.199, 6.60,.220,
6.67,.226, 6.69,.215, 6.77,.215, 6.81,.226, 6.85,.233, 6.92,.213, 6.96,.199, 6.98,.233, 7.08,.188,
7.19,.224, 7.23,.187, 7.41,.226, 7.41,.208, 7.56,.217, 7.59,.206, 7.62,.219, 7.66,.211, 7.70,.222,
7.73,.215, 7.76,.208, 7.79,.199, 7.85,.202, 8.05,.206, 8.25,.208, 8.29,.208, 8.46,.211, 8.53,.214,
8.67,.215, 8.74,.214, 8.87,.181, 8.92,.168, 9.05,.215, 9.08,.202, 9.10,.205, 9.23,.206, 10.08,.199,
10.36,.188, 14.58,0.0,
]

# lowess trend (blue line)
trend_x = [0.74, 1.68, 3.15, 4.88, 5.50, 6.48, 6.70, 7.95, 9.27, 10.74, 11.91, 14.58]
trend_y = [0.681, 0.630, 0.549, 0.472, 0.441, 0.398, 0.388, 0.361, 0.349, 0.339, 0.332, 0.322]

x_ticks = [2, 4, 6, 8, 10, 12, 14]
y_ticks = [0.0, 0.5, 1.0, 1.5]
y_tick_labels = ["0.0", "0.5", "1.0", "1.5"]
legend_labels = ["Normal", "Outlier"]
legend_colors = ["black", "#FF0000"]


def split_pairs(flat):
    return flat[0::2], flat[1::2]


normal_flat = (normal_xy_1_2 + normal_xy_2_3 + normal_xy_3_4 + normal_xy_4_5 +
               normal_xy_5_6 + normal_xy_6_8 + normal_xy_core_extra + normal_xy_mid_extra +
               normal_xy_low_edge + normal_xy_upper + normal_xy_top + normal_xy_right)
nx, ny = split_pairs(normal_flat)
ox, oy = split_pairs(outlier_xy)

FONT = "Liberation Sans, Arial, Helvetica, sans-serif"

fig = go.Figure()
fig.add_trace(go.Scatter(x=nx, y=ny, mode="markers", showlegend=False, hoverinfo="skip",
                         marker=dict(color="black", size=3.8, line=dict(width=0))))
fig.add_trace(go.Scatter(x=ox, y=oy, mode="markers", showlegend=False, hoverinfo="skip",
                         marker=dict(color="#FF0000", size=3.6, line=dict(width=0))))
fig.add_trace(go.Scatter(x=trend_x, y=trend_y, mode="lines", showlegend=False, hoverinfo="skip",
                         line=dict(color="#0000FF", width=1.6, shape="spline", smoothing=0.8)))

L, R, T, B = 123, 63, 123, 153
W, H = 1200, 900
pw, ph = W - L - R, H - T - B


def px_x(p):
    return (p - L) / pw


def px_y(p):
    return (H - B - p) / ph


shapes = [dict(type="rect", xref="paper", yref="paper",
               x0=px_x(1000), x1=1.0, y0=px_y(212.5), y1=1.0,
               line=dict(color="black", width=1.6), fillcolor="white", layer="above")]
annotations = []
for i, (lab, col) in enumerate(zip(legend_labels, legend_colors)):
    cy = 152.7 + 30.5 * i
    shapes.append(dict(type="circle", xref="paper", yref="paper",
                       x0=px_x(1022.3 - 5.3), x1=px_x(1022.3 + 5.3),
                       y0=px_y(cy + 5.3), y1=px_y(cy - 5.3),
                       fillcolor=col, line=dict(color=col, width=0), layer="above"))
    annotations.append(dict(text=lab, xref="paper", yref="paper", x=px_x(1045), y=px_y(cy),
                            xanchor="left", yanchor="middle", showarrow=False,
                            font=dict(family=FONT, size=24, color="black")))

annotations.append(dict(text="Average log-expression", xref="paper", yref="paper",
                        x=0.5, y=px_y(852), xanchor="center", yanchor="middle", showarrow=False,
                        font=dict(family=FONT, size=24, color="black")))
annotations.append(dict(text="sqrt(sigma)", xref="paper", yref="paper",
                        x=px_x(23), y=0.5, xanchor="center", yanchor="middle", showarrow=False,
                        textangle=-90, font=dict(family=FONT, size=24, color="black")))

fig.update_layout(
    width=W, height=H,
    margin=dict(l=L, r=R, t=T, b=B, pad=0),
    paper_bgcolor="white", plot_bgcolor="white",
    font=dict(family=FONT, size=24, color="black"),
    shapes=shapes, annotations=annotations,
    showlegend=False,
)
fig.update_xaxes(range=[0.174, 15.14], tickmode="array", tickvals=x_ticks,
                 ticks="outside", ticklen=15, tickwidth=1.6, tickcolor="black",
                 showline=True, linecolor="black", linewidth=1.6, mirror=True,
                 showgrid=False, zeroline=False, ticklabelstandoff=8,
                 tickfont=dict(family=FONT, size=24, color="black"))
fig.update_yaxes(range=[-0.0612, 1.6204], tickmode="array", tickvals=y_ticks,
                 ticktext=y_tick_labels, tickangle=-90,
                 ticks="outside", ticklen=15, tickwidth=1.6, tickcolor="black",
                 showline=True, linecolor="black", linewidth=1.6, mirror=True,
                 showgrid=False, zeroline=False, ticklabelstandoff=8,
                 tickfont=dict(family=FONT, size=24, color="black"))

fig.write_html("out.html", config={"displayModeBar": False},
               post_script="document.body.style.margin='0';")
